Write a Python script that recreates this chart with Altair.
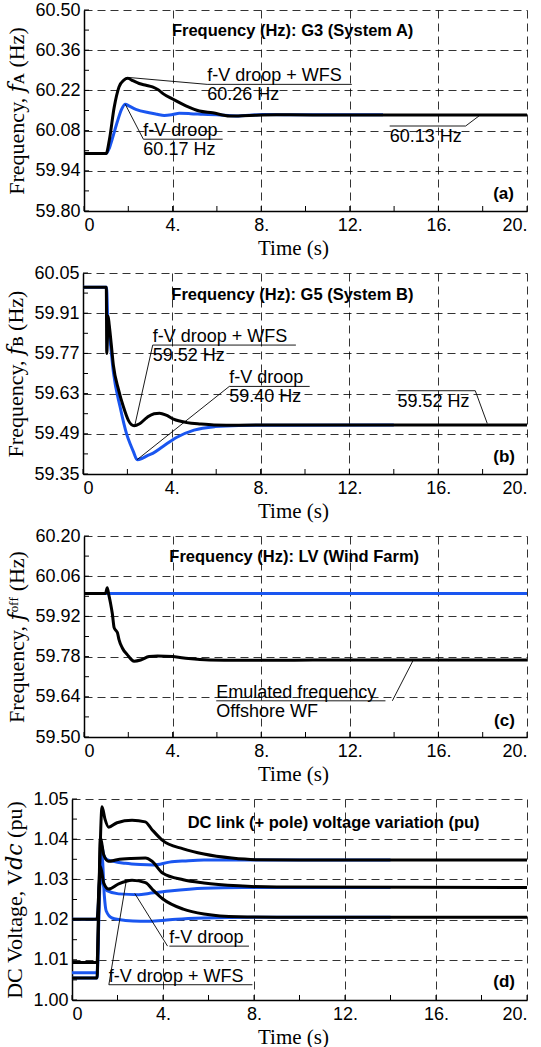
import altair as alt
import pandas as pd

# ---------------- data ----------------
# (a) Frequency G3 (System A)
a_t_wfs = [0, 1.0, 1.15, 1.36, 1.58, 1.8, 1.98, 2.2, 2.49, 2.8, 3.09, 3.35, 3.6, 4.0, 4.6, 5.21, 5.81, 6.57, 7.47, 8.68, 12, 20]
a_f_wfs = [60.00, 60.00, 60.05, 60.16, 60.232, 60.256, 60.262, 60.254, 60.244, 60.238, 60.232, 60.222, 60.207, 60.19, 60.166, 60.148, 60.142, 60.131, 60.133, 60.135, 60.134, 60.134]
a_t_droop = [0, 1.0, 1.15, 1.28, 1.5, 1.7, 1.86, 2.05, 2.34, 2.94, 3.3, 3.62, 4.0, 4.3, 4.8, 5.36, 6.0, 6.87, 8.08, 10, 13.5]
a_f_droop = [60.00, 60.00, 60.02, 60.052, 60.11, 60.155, 60.172, 60.165, 60.154, 60.142, 60.137, 60.133, 60.136, 60.14, 60.139, 60.137, 60.135, 60.131, 60.136, 60.135, 60.135]

# (b) Frequency G5 (System B)
b_t_wfs = [0, 1.05, 1.07, 1.1, 1.13, 1.18, 1.25, 1.37, 1.6, 1.82, 2.05, 2.3, 2.55, 2.9, 3.2, 3.45, 3.75, 4.08, 4.68, 5.3, 5.9, 7, 10, 20]
b_f_wfs = [60.00, 60.00, 59.77, 59.82, 59.90, 59.87, 59.82, 59.728, 59.644, 59.584, 59.536, 59.518, 59.525, 59.548, 59.56, 59.562, 59.555, 59.541, 59.529, 59.524, 59.521, 59.52, 59.521, 59.521]
b_t_droop = [0, 1.06, 1.12, 1.2, 1.37, 1.67, 1.97, 2.15, 2.27, 2.44, 2.65, 2.9, 3.14, 3.6, 4.23, 5.0, 5.94, 7.02, 9, 14]
b_f_droop = [60.00, 60.00, 59.88, 59.83, 59.704, 59.584, 59.488, 59.45, 59.428, 59.40, 59.404, 59.414, 59.422, 59.446, 59.478, 59.503, 59.515, 59.519, 59.52, 59.521]

# (c) Frequency LV (Wind Farm)
c_t_emul = [0, 0.97, 1.05, 1.12, 1.2, 1.28, 1.36, 1.45, 1.51, 1.58, 1.73, 1.96, 2.26, 2.56, 2.94, 3.32, 4.02, 4.72, 5.66, 7, 12, 20]
c_f_emul = [60.00, 60.00, 60.02, 59.995, 59.965, 59.929, 59.881, 59.87, 59.863, 59.839, 59.81, 59.786, 59.764, 59.768, 59.78, 59.782, 59.78, 59.773, 59.768, 59.767, 59.768, 59.768]
c_t_ref = [0, 20]
c_f_ref = [60.00, 60.00]

# (d) DC link voltages (three stations each)
d_t_wfs_1 = [0, 1.1, 1.2, 1.32, 1.45, 1.61, 1.98, 2.64, 3.22, 3.5, 3.98, 4.89, 5.8, 7.02, 8.08, 10, 20]
d_v_wfs_1 = [1.0093, 1.0093, 1.03, 1.0481, 1.045, 1.043, 1.0441, 1.0447, 1.0443, 1.0425, 1.0397, 1.0376, 1.0363, 1.0353, 1.0349, 1.0348, 1.0348]
d_t_wfs_2 = [0, 1.1, 1.18, 1.25, 1.4, 1.61, 1.98, 2.6, 3.23, 3.52, 3.98, 4.89, 5.8, 7.32, 9, 20]
d_v_wfs_2 = [1.0055, 1.0055, 1.025, 1.0404, 1.036, 1.0345, 1.0349, 1.0352, 1.0353, 1.0345, 1.0316, 1.0299, 1.0291, 1.0284, 1.0281, 1.028]
d_t_wfs_3 = [0, 1.1, 1.18, 1.25, 1.4, 1.61, 2.05, 2.64, 3.23, 3.59, 3.98, 4.89, 5.8, 7.32, 9, 20]
d_v_wfs_3 = [1.0201, 1.0201, 1.027, 1.0332, 1.029, 1.0276, 1.0289, 1.0298, 1.0292, 1.0272, 1.0252, 1.0226, 1.0214, 1.0207, 1.0206, 1.0206]
d_t_droop_1 = [0, 1.1, 1.2, 1.29, 1.4, 1.54, 2.35, 3.0, 3.6, 4.28, 5.0, 5.8, 8, 14]
d_v_droop_1 = [1.0068, 1.0068, 1.028, 1.0387, 1.036, 1.0349, 1.034, 1.0337, 1.0336, 1.0343, 1.0346, 1.0348, 1.0348, 1.0348]
d_t_droop_2 = [0, 1.1, 1.18, 1.25, 1.38, 1.54, 2.05, 2.93, 3.37, 4.28, 5.8, 7.5, 14]
d_v_droop_2 = [1.0055, 1.0055, 1.02, 1.031, 1.0285, 1.0272, 1.0264, 1.0262, 1.0265, 1.0271, 1.0278, 1.028, 1.028]
d_t_droop_3 = [0, 1.1, 1.22, 1.32, 1.42, 1.5, 1.76, 2.35, 3.0, 3.52, 4.59, 5.8, 8, 14]
d_v_droop_3 = [1.0201, 1.0201, 1.03, 1.036, 1.026, 1.0222, 1.0204, 1.0198, 1.0196, 1.0196, 1.0201, 1.0204, 1.0206, 1.0206]

# axes
x_major = [0, 4, 8, 12, 16, 20]
x_minor = [2, 6, 10, 14, 18]
a_y_major = [59.80, 59.94, 60.08, 60.22, 60.36, 60.50]
b_y_major = [59.35, 59.49, 59.63, 59.77, 59.91, 60.05]
c_y_major = [59.50, 59.64, 59.78, 59.92, 60.06, 60.20]
d_y_major = [1.00, 1.01, 1.02, 1.03, 1.04, 1.05]

# annotations (data coordinates): leader / underline segments
a_seg_t1 = [2.02, 5.56, 1.86, 2.68, 13.8, 17.23]
a_seg_v1 = [60.265, 60.241, 60.172, 60.05, 60.096, 60.096]
a_seg_t2 = [5.56, 12.09, 2.68, 6.26, 17.23, 17.85]
a_seg_v2 = [60.241, 60.241, 60.05, 60.05, 60.096, 60.132]
a_above = [(5.56, 60.241, "f-V droop + WFS"), (2.68, 60.05, "f-V droop")]
a_below = [(5.56, 60.241, "60.26 Hz"), (2.68, 60.05, "60.17 Hz"), (13.8, 60.096, "60.13 Hz")]

b_seg_t1 = [2.33, 3.14, 2.44, 6.59, 14.17, 17.67]
b_seg_v1 = [59.518, 59.799, 59.40, 59.655, 59.64, 59.64]
b_seg_t2 = [3.14, 9.59, 6.59, 10.21, 17.67, 18.21]
b_seg_v2 = [59.799, 59.799, 59.655, 59.655, 59.64, 59.526]
b_above = [(3.14, 59.799, "f-V droop + WFS"), (6.59, 59.655, "f-V droop")]
b_below = [(3.14, 59.799, "59.52 Hz"), (6.59, 59.655, "59.40 Hz"), (14.17, 59.64, "59.52 Hz")]

c_seg_t1 = [5.97, 13.92]
c_seg_v1 = [59.626, 59.626]
c_seg_t2 = [13.61, 14.86]
c_seg_v2 = [59.626, 59.767]
c_above = [(5.97, 59.626, "Emulated frequency")]
c_below = [(5.97, 59.626, "Offshore WF")]

d_seg_t1 = [2.76, 4.28, 2.38, 1.62]
d_seg_v1 = [1.0265, 1.0134, 1.0295, 1.0038]
d_seg_t2 = [4.2, 7.78, 1.62, 7.93]
d_seg_v2 = [1.0134, 1.0134, 1.0038, 1.0038]
d_above = [(4.28, 1.0134, "f-V droop"), (1.62, 1.0038, "f-V droop + WFS")]
d_below = []

titles = ["Frequency (Hz): G3 (System A)", "Frequency (Hz): G5 (System B)",
          "Frequency (Hz): LV (Wind Farm)", "DC link (+ pole) voltage variation (pu)"]
title_pos = [(9.42, 60.428), (9.43, 59.972), (9.49, 60.127), (11.5, 1.044)]
tags = ["(a)", "(b)", "(c)", "(d)"]
tag_pos = [(19.41, 59.858), (19.46, 59.41), (19.45, 59.556), (19.47, 1.0045)]
y_titles = ["Frequency, \U0001D453\u1D00 (Hz)", "Frequency, \U0001D453\u0299 (Hz)",
            "Frequency, \U0001D453\u1D52\u1DA0\u1DA0 (Hz)", "DC Voltage, V\U0001D451\U0001D450 (pu)"]

BLUE = "#1a56f0"
SANS = "Liberation Sans"
SERIF = "Liberation Serif, DejaVu Serif"
H = 201
W = 455


def series(pairs):
    rows = []
    for name, ts, vs in pairs:
        rows += [{"t": t, "v": v, "s": name} for t, v in zip(ts, vs)]
    return pd.DataFrame(rows)


def panel(blue, black, ymaj, segs, above, below, title, tpos, tag, gpos, ytitle, xoff):
    step = ymaj[1] - ymaj[0]
    ymin = [round(v + step / 2, 4) for v in ymaj[:-1]]
    xs = alt.Scale(domain=[0, 20], range=[xoff, W], nice=False, zero=False)
    ys = alt.Scale(domain=[ymaj[0], ymaj[-1]], nice=False, zero=False)
    xaxis = alt.Axis(values=x_major, labelExpr="datum.value == 0 ? '0' : datum.value + '.'",
                     title="Time (s)", grid=True, ticks=False, tickSize=0,
                     domainColor="black", domainWidth=1.5, gridColor="black", gridDash=[8, 5],
                     gridWidth=1, gridOpacity=0.8, labelFont=SANS, labelFontSize=18,
                     labelColor="black", labelPadding=5, titleFont=SERIF, titleFontSize=21,
                     titleFontWeight="normal", titleColor="black", titlePadding=3, titleX=221)
    yargs = dict(values=ymaj, format=".2f", title=ytitle, grid=True, ticks=False, tickSize=0,
                 domainColor="black", domainWidth=1.5, gridColor="black", gridDash=[8, 5],
                 gridWidth=1, gridOpacity=0.8, labelFont=SANS, labelFontSize=18,
                 labelColor="black", labelPadding=4, titleFont=SERIF, titleFontSize=22,
                 titleFontWeight="normal", titleColor="black", titlePadding=6)
    if xoff:
        yargs["offset"] = -xoff
    yaxis = alt.Axis(**yargs)
    X = alt.X("t:Q", scale=xs, axis=xaxis)
    Y = alt.Y("v:Q", scale=ys, axis=yaxis)

    layers = [
        alt.Chart(blue).mark_line(color=BLUE, strokeWidth=3, interpolate="monotone").encode(x=X, y=Y, detail="s:N"),
        alt.Chart(black).mark_line(color="black", strokeWidth=3, interpolate="monotone").encode(x=X, y=Y, detail="s:N"),
        alt.Chart(pd.DataFrame({"v": ymaj + ymin})).mark_rule(color="black", strokeWidth=1).encode(
            y=Y, x=alt.value(xoff), x2=alt.value(xoff + 5)),
        alt.Chart(pd.DataFrame({"t": x_major + x_minor})).mark_rule(color="black", strokeWidth=1).encode(
            x=X, y=alt.value(H), y2=alt.value(H - 5)),
        alt.Chart(pd.DataFrame({"t": segs[0], "v": segs[1], "t2": segs[2], "v2": segs[3]})).mark_rule(
            color="black", strokeWidth=0.9).encode(x=X, y=Y, x2="t2:Q", y2="v2:Q"),
        alt.Chart(pd.DataFrame(above, columns=["t", "v", "txt"])).mark_text(
            align="left", baseline="alphabetic", dy=-3, font=SANS, fontSize=18, color="black").encode(
            x=X, y=Y, text="txt:N"),
        alt.Chart(pd.DataFrame({"t": [tpos[0]], "v": [tpos[1]], "txt": [title]})).mark_text(
            align="center", baseline="middle", font=SANS, fontSize=16.5, fontWeight="bold", color="black").encode(
            x=X, y=Y, text="txt:N"),
        alt.Chart(pd.DataFrame({"t": [gpos[0]], "v": [gpos[1]], "txt": [tag]})).mark_text(
            align="right", baseline="middle", font=SANS, fontSize=17, fontWeight="bold", color="black").encode(
            x=X, y=Y, text="txt:N"),
    ]
    if below:
        layers.append(alt.Chart(pd.DataFrame(below, columns=["t", "v", "txt"])).mark_text(
            align="left", baseline="top", dy=2, font=SANS, fontSize=18, color="black").encode(
            x=X, y=Y, text="txt:N"))
    return alt.layer(*layers).properties(width=W, height=H)


pa = panel(series([("d", a_t_droop, a_f_droop)]), series([("w", a_t_wfs, a_f_wfs)]),
           a_y_major, (a_seg_t1, a_seg_v1, a_seg_t2, a_seg_v2), a_above, a_below,
           titles[0], title_pos[0], tags[0], tag_pos[0], y_titles[0], 12)
pb = panel(series([("d", b_t_droop, b_f_droop)]), series([("w", b_t_wfs, b_f_wfs)]),
           b_y_major, (b_seg_t1, b_seg_v1, b_seg_t2, b_seg_v2), b_above, b_below,
           titles[1], title_pos[1], tags[1], tag_pos[1], y_titles[1], 11)
pc = panel(series([("r", c_t_ref, c_f_ref)]), series([("e", c_t_emul, c_f_emul)]),
           c_y_major, (c_seg_t1, c_seg_v1, c_seg_t2, c_seg_v2), c_above, c_below,
           titles[2], title_pos[2], tags[2], tag_pos[2], y_titles[2], 12)
pd_ = panel(series([("1", d_t_droop_1, d_v_droop_1), ("2", d_t_droop_2, d_v_droop_2), ("3", d_t_droop_3, d_v_droop_3)]),
            series([("1", d_t_wfs_1, d_v_wfs_1), ("2", d_t_wfs_2, d_v_wfs_2), ("3", d_t_wfs_3, d_v_wfs_3)]),
            d_y_major, (d_seg_t1, d_seg_v1, d_seg_t2, d_seg_v2), d_above, d_below,
            titles[3], title_pos[3], tags[3], tag_pos[3], y_titles[3], 0)

chart = alt.vconcat(pa, pb, pc, pd_, spacing=4).properties(
    padding={"left": 3, "top": 0, "right": 0, "bottom": 0},
    background="white",
).resolve_scale(x="independent", y="independent").configure_view(stroke="transparent")

chart.save("out.html", embed_options={"renderer": "svg", "actions": False})
